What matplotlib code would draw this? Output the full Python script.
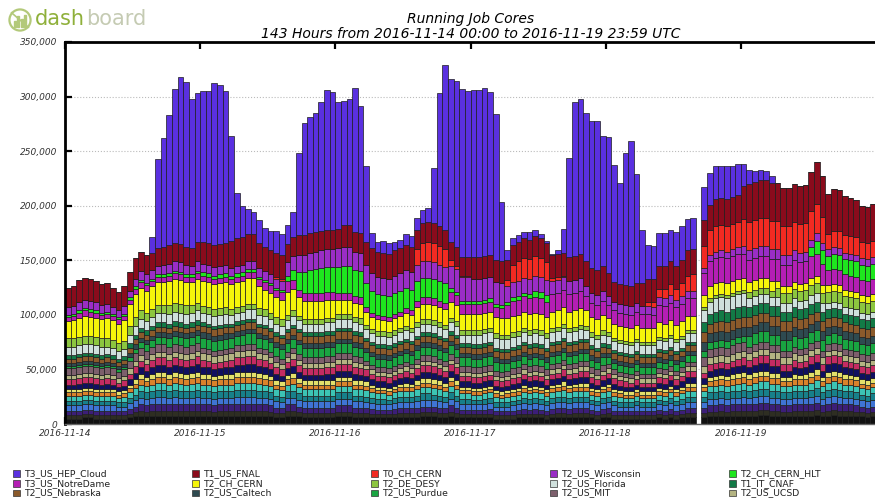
import numpy as np
import pandas as pd
import matplotlib
matplotlib.use("Agg")
import matplotlib.pyplot as plt
import matplotlib.dates as mdates
from matplotlib.patches import Rectangle, Circle


# hourly bins; no data was collected for 2016-11-18 16:00
hours = pd.date_range("2016-11-14 00:00", "2016-11-19 23:00", freq="h")
hours = hours.drop(pd.Timestamp("2016-11-18 16:00"))

# running cores per site, in thousands (one row per day)
hep_cloud = [
    0, 0, 0, 0, 0, 0, 0, 0, 0, 0, 0, 0, 0, 0, 0, 14, 82, 100, 119, 141, 153, 151, 137, 136,
    138, 139, 148, 146, 139, 96, 42, 29, 23, 20, 21, 18, 18, 20, 19, 17, 23, 75, 103, 106, 109, 118, 128, 126,
    116, 114, 116, 132, 116, 69, 14, 9, 11, 10, 8, 8, 10, 10, 11, 12, 13, 51, 122, 151, 149, 152, 154, 152,
    153, 153, 154, 149, 134, 54, 9, 6, 6, 6, 7, 6, 4, 2, 1, 3, 22, 91, 141, 142, 136, 135, 137, 119,
    125, 107, 93, 121, 133, 100, 49, 31, 30, 30, 30, 29, 31, 31, 29, 29, 30, 29, 30, 29, 30, 28, 28,
    20, 13, 10, 9, 8, 6, 0, 0, 0, 0, 0, 0, 0, 0, 0, 0, 0, 0, 0, 0, 0, 0, 0, 0,
]
fnal = [
    18, 18, 20, 20, 20, 19, 19, 19, 18, 17, 18, 17, 19, 18, 18, 16, 16, 16, 17, 17, 17, 16, 16, 18,
    20, 20, 20, 20, 20, 25, 25, 25, 25, 25, 23, 22, 22, 22, 22, 17, 17, 18, 18, 18, 18, 18, 18, 18,
    18, 20, 20, 18, 18, 21, 23, 23, 23, 23, 23, 23, 23, 23, 18, 18, 18, 18, 18, 18, 17, 17, 17, 17,
    20, 20, 20, 20, 20, 20, 18, 18, 18, 18, 18, 18, 18, 18, 21, 21, 21, 22, 22, 22, 23, 23, 23, 23,
    21, 18, 18, 18, 18, 18, 21, 21, 21, 21, 21, 21, 21, 21, 23, 23, 24, 23, 25, 25, 25, 25, 25,
    30, 35, 35, 35, 35, 35, 35, 35, 35, 35, 35, 35, 36, 38, 37, 37, 38, 37, 36, 35, 34, 33, 33, 34,
]
t0_cern = [
    0, 0, 0, 0, 0, 0, 0, 0, 0, 0, 0, 0, 0, 0, 0, 0, 0, 0, 0, 0, 0, 0, 0, 0,
    0, 0, 0, 0, 0, 0, 0, 0, 0, 0, 0, 0, 0, 2, 2, 0, 0, 0, 0, 0, 0, 0, 0, 0,
    0, 0, 0, 0, 0, 0, 0, 0, 0, 0, 0, 0, 0, 0, 14, 17, 18, 18, 17, 16, 5, 3, 1, 1,
    0, 0, 0, 0, 0, 0, 6, 16, 18, 18, 18, 18, 17, 16, 3, 3, 1, 0, 0, 0, 0, 0, 0, 0,
    0, 0, 0, 0, 0, 0, 0, 4, 5, 8, 9, 10, 10, 12, 14, 15, 20, 23, 23, 23, 23, 23, 23,
    25, 26, 26, 26, 26, 26, 26, 26, 26, 26, 26, 26, 26, 27, 24, 14, 15, 16, 16, 16, 16, 15, 15, 15,
]
wisconsin = [
    7, 7, 8, 8, 8, 8, 7, 7, 6, 6, 7, 6, 7, 8, 8, 8, 8, 9, 9, 9, 9, 9, 8, 9,
    8, 8, 8, 8, 8, 7, 7, 7, 7, 7, 8, 8, 8, 8, 8, 12, 13, 16, 16, 16, 16, 16, 16, 16,
    17, 17, 17, 17, 17, 17, 16, 16, 16, 16, 16, 16, 16, 16, 15, 15, 15, 15, 15, 15, 20, 21, 22, 22,
    20, 20, 20, 20, 20, 20, 14, 14, 14, 14, 14, 14, 14, 14, 12, 12, 12, 12, 12, 12, 9, 9, 9, 9,
    8, 8, 8, 8, 8, 8, 7, 7, 7, 7, 7, 7, 7, 7, 7, 7, 5, 6, 6, 6, 6, 6, 6,
    7, 9, 9, 9, 9, 9, 9, 9, 9, 9, 9, 9, 7, 7, 7, 6, 6, 6, 6, 6, 6, 6, 6, 6,
]
cern_hlt = [
    2, 2, 2, 2, 2, 2, 2, 2, 2, 2, 2, 2, 2, 2, 2, 2, 2, 2, 2, 2, 2, 2, 2, 2,
    3, 3, 3, 3, 3, 3, 3, 3, 3, 3, 2, 2, 2, 2, 2, 5, 9, 16, 19, 21, 22, 23, 23, 23,
    24, 25, 25, 24, 24, 22, 20, 19, 19, 19, 19, 19, 19, 19, 18, 18, 18, 18, 18, 18, 4, 3, 3, 3,
    3, 3, 3, 3, 3, 3, 3, 3, 3, 3, 4, 6, 6, 6, 0, 0, 0, 0, 0, 0, 0, 0, 0, 0,
    0, 0, 0, 0, 0, 0, 0, 0, 0, 0, 0, 0, 0, 0, 0, 0, 0, 0, 0, 0, 0, 0, 0,
    0, 0, 0, 0, 0, 0, 0, 0, 0, 0, 0, 0, 8, 12, 12, 13, 14, 14, 14, 14, 14, 14, 14, 14,
]
notre_dame = [
    4, 4, 5, 5, 5, 5, 4, 4, 4, 4, 4, 4, 5, 5, 5, 5, 5, 5, 5, 5, 5, 5, 5, 5,
    5, 5, 5, 5, 5, 5, 5, 5, 5, 5, 7, 7, 7, 7, 7, 10, 8, 7, 7, 7, 7, 7, 7, 7,
    6, 6, 6, 6, 6, 4, 4, 4, 4, 4, 4, 4, 4, 4, 6, 6, 6, 6, 6, 6, 9, 9, 9, 9,
    9, 9, 9, 9, 9, 9, 12, 14, 14, 14, 14, 14, 14, 14, 16, 16, 16, 16, 16, 16, 13, 13, 13, 13,
    12, 12, 12, 12, 12, 12, 13, 13, 12, 16, 16, 16, 16, 16, 16, 16, 20, 23, 23, 23, 23, 23, 23,
    22, 20, 20, 20, 20, 20, 20, 20, 20, 20, 20, 20, 20, 20, 20, 14, 14, 14, 14, 14, 14, 14, 14, 14,
]
ch_cern = [
    15, 16, 17, 18, 17, 17, 17, 18, 18, 18, 19, 20, 21, 21, 20, 21, 21, 21, 22, 22, 22, 21, 21, 22,
    23, 23, 23, 23, 23, 23, 23, 23, 24, 24, 20, 18, 18, 18, 18, 21, 20, 17, 17, 17, 17, 17, 17, 17,
    13, 13, 13, 13, 13, 12, 11, 11, 10, 10, 11, 11, 12, 12, 14, 14, 14, 14, 14, 14, 15, 15, 15, 15,
    15, 15, 15, 15, 15, 15, 15, 15, 15, 15, 15, 15, 15, 15, 15, 15, 15, 15, 15, 15, 14, 14, 14, 14,
    13, 13, 13, 13, 13, 13, 13, 13, 13, 13, 13, 13, 13, 13, 13, 13, 11, 11, 11, 11, 11, 11, 11,
    11, 9, 9, 9, 9, 9, 6, 6, 6, 6, 6, 6, 7, 7, 7, 6, 6, 6, 6, 6, 6, 6, 6, 6,
]
desy = [
    8, 8, 8, 8, 8, 8, 8, 8, 7, 7, 7, 8, 8, 8, 8, 7, 7, 7, 8, 8, 8, 8, 7, 7,
    6, 6, 6, 6, 6, 5, 5, 5, 5, 5, 6, 6, 6, 6, 6, 5, 5, 4, 4, 4, 4, 4, 4, 4,
    5, 5, 5, 5, 5, 4, 4, 4, 4, 4, 4, 4, 4, 4, 4, 4, 4, 4, 4, 4, 4, 4, 4, 4,
    4, 4, 4, 4, 4, 4, 4, 4, 4, 4, 4, 4, 4, 4, 4, 4, 4, 4, 4, 4, 4, 4, 4, 4,
    3, 3, 3, 3, 3, 3, 3, 3, 3, 3, 3, 3, 3, 3, 3, 3, 3, 3, 3, 3, 3, 3, 3,
    3, 6, 6, 6, 6, 6, 9, 9, 9, 9, 9, 9, 9, 9, 9, 10, 10, 10, 10, 10, 10, 10, 10, 10,
]
florida = [
    8, 8, 8, 8, 8, 8, 8, 7, 7, 7, 7, 8, 8, 8, 8, 8, 9, 9, 9, 9, 9, 9, 9, 9,
    9, 9, 9, 9, 9, 8, 8, 8, 9, 9, 8, 8, 8, 8, 8, 8, 8, 8, 8, 8, 8, 8, 8, 8,
    8, 8, 8, 8, 8, 8, 8, 8, 8, 8, 8, 8, 8, 8, 8, 8, 8, 8, 8, 8, 8, 8, 8, 8,
    9, 9, 9, 9, 9, 9, 9, 9, 9, 9, 9, 9, 9, 9, 9, 9, 9, 9, 9, 9, 8, 8, 8, 8,
    8, 8, 8, 8, 8, 8, 8, 8, 8, 8, 8, 8, 8, 8, 8, 8, 11, 11, 12, 12, 12, 12, 12,
    12, 8, 8, 8, 8, 8, 8, 8, 8, 8, 8, 8, 8, 8, 8, 6, 6, 6, 6, 6, 6, 6, 6, 6,
]
cnaf = [
    3, 3, 3, 3, 3, 3, 3, 3, 3, 3, 3, 4, 4, 4, 4, 4, 4, 4, 4, 4, 4, 4, 4, 4,
    3, 3, 3, 3, 3, 3, 3, 3, 3, 3, 3, 3, 3, 3, 3, 3, 3, 3, 3, 3, 3, 3, 3, 3,
    3, 3, 3, 3, 3, 3, 3, 3, 3, 3, 3, 3, 3, 3, 3, 3, 3, 3, 3, 3, 3, 3, 3, 3,
    3, 3, 3, 3, 3, 3, 3, 3, 3, 3, 3, 3, 3, 3, 3, 3, 3, 3, 3, 3, 3, 3, 3, 3,
    3, 3, 3, 3, 3, 3, 3, 3, 3, 3, 3, 3, 3, 3, 3, 3, 9, 9, 10, 10, 10, 10, 10,
    10, 9, 9, 9, 9, 9, 9, 9, 9, 9, 9, 9, 9, 9, 9, 8, 8, 8, 8, 8, 8, 8, 8, 8,
]
nebraska = [
    4, 4, 4, 4, 4, 4, 4, 4, 4, 4, 4, 5, 5, 5, 5, 5, 5, 5, 5, 5, 5, 5, 5, 5,
    6, 6, 6, 6, 6, 6, 6, 6, 6, 6, 6, 6, 6, 6, 6, 6, 6, 7, 7, 7, 7, 7, 7, 7,
    7, 7, 7, 7, 7, 6, 6, 6, 6, 6, 6, 6, 6, 6, 6, 6, 6, 6, 6, 6, 6, 6, 6, 6,
    6, 6, 6, 6, 6, 6, 6, 6, 6, 6, 6, 6, 6, 6, 6, 6, 6, 6, 6, 6, 6, 6, 6, 6,
    5, 5, 5, 5, 5, 5, 5, 5, 5, 5, 5, 5, 5, 5, 5, 5, 9, 9, 9, 9, 9, 9, 9,
    9, 9, 9, 9, 9, 9, 9, 9, 9, 9, 9, 9, 9, 9, 9, 8, 8, 8, 8, 8, 8, 8, 8, 8,
]
caltech = [
    3, 3, 3, 3, 3, 3, 3, 3, 3, 3, 3, 4, 4, 4, 4, 4, 4, 4, 4, 4, 4, 4, 4, 4,
    5, 5, 5, 5, 5, 4, 4, 4, 4, 4, 4, 4, 4, 4, 4, 4, 4, 4, 4, 4, 4, 4, 4, 4,
    4, 4, 4, 4, 4, 4, 4, 4, 4, 4, 4, 4, 4, 4, 4, 4, 4, 4, 4, 4, 4, 4, 4, 4,
    4, 4, 4, 4, 4, 4, 4, 4, 4, 4, 4, 4, 4, 4, 4, 4, 4, 4, 4, 4, 4, 4, 4, 4,
    4, 4, 4, 4, 4, 4, 4, 4, 4, 4, 4, 4, 4, 4, 4, 4, 8, 8, 8, 8, 8, 8, 8,
    8, 8, 8, 8, 8, 8, 8, 8, 8, 8, 8, 8, 8, 8, 8, 7, 7, 7, 7, 7, 7, 7, 7, 7,
]
purdue = [
    2, 2, 2, 2, 2, 2, 2, 2, 2, 2, 2, 3, 4, 5, 6, 6, 7, 7, 8, 8, 8, 8, 8, 8,
    9, 9, 9, 9, 9, 9, 9, 10, 10, 10, 9, 9, 9, 9, 9, 8, 8, 9, 9, 9, 9, 9, 9, 9,
    9, 9, 9, 9, 9, 8, 8, 8, 8, 8, 8, 8, 8, 8, 8, 8, 8, 8, 8, 8, 8, 8, 8, 8,
    8, 8, 8, 8, 8, 8, 7, 7, 7, 7, 7, 7, 7, 7, 7, 7, 7, 7, 7, 7, 7, 7, 7, 7,
    6, 6, 6, 6, 6, 6, 6, 6, 6, 6, 6, 6, 6, 6, 6, 6, 6, 6, 6, 6, 6, 6, 6,
    6, 10, 10, 10, 10, 10, 10, 10, 10, 10, 10, 10, 10, 10, 10, 9, 9, 9, 9, 9, 9, 9, 9, 9,
]
mit = [
    6, 6, 6, 6, 6, 6, 6, 6, 6, 6, 6, 7, 7, 7, 7, 7, 7, 7, 7, 7, 7, 7, 7, 7,
    5, 5, 5, 5, 5, 5, 5, 5, 5, 5, 5, 5, 5, 5, 5, 5, 5, 5, 5, 5, 5, 5, 5, 5,
    5, 5, 5, 5, 5, 4, 4, 4, 4, 4, 4, 4, 4, 4, 5, 5, 5, 5, 5, 5, 5, 5, 5, 5,
    5, 5, 5, 5, 5, 5, 5, 5, 5, 5, 5, 5, 5, 5, 5, 5, 5, 5, 5, 5, 5, 5, 5, 5,
    4, 4, 4, 4, 4, 4, 4, 4, 4, 4, 4, 4, 4, 4, 4, 4, 8, 8, 8, 8, 8, 8, 8,
    8, 6, 6, 6, 6, 6, 6, 6, 6, 6, 6, 6, 6, 6, 6, 6, 6, 6, 6, 6, 6, 6, 6, 6,
]
ucsd = [
    4, 4, 4, 4, 4, 4, 4, 4, 4, 4, 4, 5, 5, 5, 5, 5, 5, 5, 5, 5, 5, 5, 5, 5,
    6, 6, 6, 6, 6, 6, 6, 6, 6, 6, 5, 5, 5, 5, 5, 4, 5, 5, 5, 5, 5, 5, 5, 5,
    5, 5, 5, 5, 5, 4, 4, 4, 4, 4, 4, 4, 4, 4, 4, 4, 4, 4, 4, 4, 4, 4, 4, 4,
    4, 4, 4, 4, 4, 4, 4, 4, 4, 4, 4, 4, 4, 4, 4, 4, 4, 4, 4, 4, 4, 4, 4, 4,
    4, 4, 4, 4, 4, 4, 4, 4, 4, 4, 4, 4, 4, 4, 4, 4, 6, 6, 6, 6, 6, 6, 6,
    6, 6, 6, 6, 6, 6, 6, 6, 6, 6, 6, 6, 6, 6, 6, 5, 5, 5, 5, 5, 5, 5, 5, 5,
]

# the many small sites at the bottom of the stack
small_1 = [
    5, 5, 5, 6, 6, 5, 5, 5, 5, 5, 5, 6, 7, 7, 7, 7, 7, 7, 7, 7, 7, 7, 7, 7,
    7, 7, 7, 7, 7, 7, 7, 7, 7, 7, 7, 7, 7, 6, 6, 7, 7, 7, 6, 6, 6, 6, 6, 6,
    7, 7, 7, 6, 6, 6, 6, 6, 6, 6, 6, 6, 6, 6, 6, 7, 7, 7, 6, 6, 7, 6, 6, 6,
    6, 6, 6, 6, 5, 5, 5, 5, 6, 6, 6, 6, 6, 5, 6, 6, 6, 6, 6, 6, 6, 6, 5, 6,
    6, 5, 5, 5, 5, 5, 5, 5, 5, 6, 5, 6, 5, 6, 6, 6, 6, 7, 7, 7, 7, 7, 7,
    7, 7, 7, 8, 8, 7, 7, 7, 7, 7, 7, 7, 7, 8, 7, 7, 8, 7, 7, 7, 7, 7, 6, 7,
]
small_2 = [
    3, 3, 3, 3, 3, 3, 3, 3, 3, 3, 3, 3, 4, 5, 4, 5, 5, 5, 5, 5, 5, 5, 5, 5,
    5, 5, 4, 5, 5, 5, 5, 5, 5, 5, 5, 5, 4, 4, 4, 5, 5, 4, 4, 4, 4, 4, 4, 4,
    4, 4, 4, 4, 4, 4, 3, 3, 3, 3, 3, 4, 4, 4, 4, 4, 4, 4, 4, 4, 4, 4, 3, 3,
    3, 3, 3, 3, 3, 3, 3, 3, 3, 3, 3, 3, 3, 3, 3, 4, 4, 3, 4, 4, 4, 3, 3, 3,
    4, 3, 3, 3, 3, 3, 3, 3, 3, 3, 3, 3, 3, 3, 4, 4, 4, 4, 4, 5, 4, 5, 5,
    5, 5, 5, 5, 5, 5, 5, 4, 4, 5, 5, 5, 5, 5, 4, 5, 5, 5, 5, 5, 4, 4, 4, 4,
]
small_3 = [
    4, 4, 4, 4, 4, 4, 4, 4, 4, 4, 4, 5, 5, 6, 6, 6, 6, 6, 6, 6, 6, 6, 6, 6,
    6, 6, 6, 6, 6, 6, 6, 6, 6, 6, 6, 6, 6, 5, 5, 6, 6, 5, 5, 5, 5, 5, 5, 5,
    6, 6, 6, 5, 5, 5, 5, 4, 4, 4, 5, 5, 5, 5, 5, 5, 5, 5, 5, 5, 6, 5, 4, 4,
    4, 4, 4, 5, 4, 4, 4, 4, 4, 5, 4, 5, 4, 4, 5, 5, 5, 5, 5, 5, 5, 4, 4, 5,
    5, 4, 4, 4, 4, 4, 4, 4, 4, 4, 4, 5, 4, 4, 5, 5, 5, 6, 6, 6, 6, 6, 6,
    6, 6, 6, 6, 6, 6, 6, 6, 6, 6, 6, 6, 6, 6, 6, 6, 6, 6, 6, 6, 6, 5, 5, 5,
]
small_4 = [
    5, 5, 5, 5, 5, 5, 5, 5, 5, 4, 4, 5, 6, 6, 6, 6, 7, 7, 6, 7, 6, 6, 6, 7,
    6, 6, 6, 6, 6, 6, 7, 7, 7, 7, 6, 6, 6, 6, 5, 6, 6, 6, 6, 6, 6, 6, 6, 6,
    6, 6, 6, 6, 6, 5, 5, 5, 5, 5, 5, 5, 5, 5, 6, 6, 6, 6, 6, 5, 6, 6, 5, 5,
    5, 5, 5, 5, 4, 4, 4, 5, 5, 5, 5, 5, 5, 5, 5, 5, 5, 5, 5, 5, 5, 5, 5, 5,
    5, 5, 4, 4, 4, 5, 4, 4, 4, 5, 5, 5, 5, 5, 5, 5, 5, 6, 6, 6, 6, 6, 6,
    7, 6, 7, 7, 7, 6, 6, 6, 6, 6, 6, 6, 7, 7, 6, 7, 7, 7, 6, 6, 6, 6, 6, 6,
]
small_5 = [
    4, 4, 4, 4, 4, 4, 4, 4, 4, 4, 4, 5, 5, 6, 6, 6, 6, 6, 6, 6, 6, 6, 6, 6,
    6, 6, 6, 6, 6, 6, 6, 6, 6, 6, 6, 6, 6, 5, 5, 6, 6, 6, 5, 5, 5, 5, 5, 5,
    6, 6, 6, 5, 5, 5, 5, 5, 5, 4, 5, 5, 5, 5, 5, 6, 6, 5, 5, 5, 6, 5, 5, 5,
    4, 4, 5, 5, 4, 4, 4, 4, 4, 5, 5, 5, 5, 4, 5, 5, 5, 5, 5, 5, 5, 4, 4, 5,
    5, 4, 4, 4, 4, 4, 4, 4, 4, 4, 4, 5, 4, 5, 5, 5, 5, 6, 6, 6, 6, 6, 6,
    6, 6, 6, 6, 6, 6, 6, 6, 6, 6, 6, 6, 6, 7, 6, 6, 6, 6, 6, 6, 6, 5, 5, 6,
]
small_6 = [
    5, 5, 5, 5, 5, 5, 5, 5, 5, 4, 5, 5, 6, 6, 6, 6, 7, 7, 6, 7, 7, 6, 7, 7,
    6, 6, 6, 6, 6, 6, 7, 7, 7, 7, 7, 6, 6, 6, 6, 6, 7, 6, 6, 6, 6, 6, 6, 6,
    6, 6, 6, 6, 6, 6, 5, 5, 5, 5, 5, 5, 5, 5, 6, 6, 6, 6, 6, 5, 6, 6, 5, 5,
    5, 5, 5, 5, 5, 4, 5, 5, 5, 5, 5, 5, 5, 5, 5, 5, 6, 5, 5, 5, 5, 5, 5, 5,
    5, 5, 5, 4, 4, 5, 4, 4, 4, 5, 5, 5, 5, 5, 5, 5, 5, 6, 6, 6, 6, 6, 7,
    7, 6, 7, 7, 7, 7, 7, 6, 6, 6, 6, 6, 7, 7, 6, 7, 7, 7, 6, 6, 6, 6, 6, 6,
]
small_7 = [
    3, 3, 3, 3, 3, 3, 3, 3, 3, 3, 3, 4, 4, 5, 4, 5, 5, 5, 5, 5, 5, 5, 5, 5,
    5, 5, 5, 5, 5, 5, 5, 5, 5, 5, 5, 5, 5, 4, 4, 5, 5, 4, 4, 4, 4, 4, 4, 4,
    4, 4, 4, 4, 4, 4, 4, 3, 3, 3, 3, 4, 4, 4, 4, 4, 4, 4, 4, 4, 4, 4, 3, 3,
    3, 3, 3, 3, 3, 3, 3, 3, 3, 4, 3, 3, 3, 3, 4, 4, 4, 4, 4, 4, 4, 3, 3, 3,
    4, 3, 3, 3, 3, 3, 3, 3, 3, 3, 3, 3, 3, 3, 4, 4, 4, 4, 5, 5, 5, 5, 5,
    5, 5, 5, 5, 5, 5, 5, 4, 4, 5, 5, 5, 5, 5, 4, 5, 5, 5, 5, 5, 5, 4, 4, 4,
]
small_8 = [
    3, 3, 3, 3, 3, 3, 3, 3, 3, 3, 3, 3, 4, 5, 4, 5, 5, 5, 5, 5, 5, 5, 5, 5,
    5, 5, 4, 4, 5, 5, 5, 5, 5, 5, 5, 5, 4, 4, 4, 4, 5, 4, 4, 4, 4, 4, 4, 4,
    4, 4, 4, 4, 4, 4, 3, 3, 3, 3, 3, 3, 4, 3, 4, 4, 4, 4, 4, 4, 4, 4, 3, 3,
    3, 3, 3, 3, 3, 3, 3, 3, 3, 3, 3, 3, 3, 3, 3, 3, 4, 3, 3, 4, 4, 3, 3, 3,
    3, 3, 3, 3, 3, 3, 3, 3, 3, 3, 3, 3, 3, 3, 4, 4, 3, 4, 4, 4, 4, 5, 5,
    5, 5, 5, 5, 5, 5, 5, 4, 4, 5, 4, 5, 5, 5, 4, 5, 5, 5, 5, 4, 4, 4, 4, 4,
]
small_9 = [
    4, 4, 5, 5, 5, 5, 4, 5, 4, 4, 4, 5, 6, 6, 6, 6, 6, 6, 6, 6, 6, 6, 6, 7,
    6, 6, 6, 6, 6, 6, 6, 6, 7, 7, 6, 6, 6, 6, 5, 6, 6, 6, 5, 5, 5, 5, 6, 6,
    6, 6, 6, 6, 5, 5, 5, 5, 5, 5, 5, 5, 5, 5, 5, 6, 6, 6, 5, 5, 6, 6, 5, 5,
    5, 5, 5, 5, 4, 4, 4, 5, 5, 5, 5, 5, 5, 4, 5, 5, 5, 5, 5, 5, 5, 5, 4, 5,
    5, 5, 4, 4, 4, 4, 4, 4, 4, 5, 5, 5, 4, 5, 5, 5, 5, 6, 6, 6, 6, 6, 6,
    6, 6, 6, 7, 7, 6, 6, 6, 6, 6, 6, 6, 7, 7, 6, 7, 7, 7, 6, 6, 6, 6, 6, 6,
]
small_10 = [
    5, 5, 5, 5, 5, 5, 5, 5, 5, 4, 5, 5, 6, 6, 6, 7, 7, 7, 7, 7, 7, 7, 7, 7,
    7, 6, 6, 6, 6, 7, 7, 7, 7, 7, 7, 7, 6, 6, 6, 6, 7, 6, 6, 6, 6, 6, 6, 6,
    6, 6, 6, 6, 6, 6, 5, 5, 5, 5, 5, 5, 6, 5, 6, 6, 6, 6, 6, 6, 6, 6, 5, 5,
    5, 5, 5, 5, 5, 5, 5, 5, 5, 5, 5, 5, 5, 5, 5, 5, 6, 5, 5, 6, 6, 5, 5, 5,
    5, 5, 5, 5, 4, 5, 4, 4, 4, 5, 5, 5, 5, 5, 6, 6, 5, 6, 6, 6, 6, 6, 7,
    7, 7, 7, 7, 7, 7, 7, 6, 6, 7, 6, 6, 7, 7, 6, 7, 7, 7, 6, 6, 6, 6, 6, 6,
]

# stack order, bottom first: (legend name or None, colour, values)
stack = [
    (None, "#111111", small_1),
    (None, "#2e2e22", small_2),
    (None, "#3c1e78", small_3),
    (None, "#3f74d4", small_4),
    (None, "#17808a", small_5),
    (None, "#3cc4b4", small_6),
    (None, "#d9822b", small_7),
    (None, "#e3e06a", small_8),
    (None, "#101060", small_9),
    (None, "#c42b62", small_10),
    ("T2_US_UCSD", "#b4b482", ucsd),
    ("T2_US_MIT", "#7d5f6c", mit),
    ("T2_US_Purdue", "#19a541", purdue),
    ("T2_US_Caltech", "#2e4a50", caltech),
    ("T2_US_Nebraska", "#8b5a2b", nebraska),
    ("T1_IT_CNAF", "#127a46", cnaf),
    ("T2_US_Florida", "#cfe0dc", florida),
    ("T2_DE_DESY", "#8cc63f", desy),
    ("T2_CH_CERN", "#f6f60a", ch_cern),
    ("T3_US_NotreDame", "#b41eb4", notre_dame),
    ("T2_CH_CERN_HLT", "#1ee61e", cern_hlt),
    ("T2_US_Wisconsin", "#9a2dc6", wisconsin),
    ("T0_CH_CERN", "#f22a22", t0_cern),
    ("T1_US_FNAL", "#8a0b1c", fnal),
    ("T3_US_HEP_Cloud", "#5a30e0", hep_cloud),
]
for name, color, vals in stack:
    assert len(vals) == len(hours), (name, len(vals))

fig = plt.figure(figsize=(8.75, 4.98), dpi=100)
ax = fig.add_axes([65 / 875, 74 / 498, 811 / 875, 382 / 498])

x = mdates.date2num(hours)
bottom = np.zeros(len(x))
for name, color, vals in stack:
    cores = np.array(vals, dtype=float) * 1000
    ax.bar(x, cores, width=1 / 24, bottom=bottom, align="edge", color=color,
           edgecolor="#1c1c1c", linewidth=0.5, zorder=2)
    bottom += cores

days = pd.date_range("2016-11-14", "2016-11-19", freq="D")
ax.set_xlim(mdates.date2num(pd.Timestamp("2016-11-14")), mdates.date2num(pd.Timestamp("2016-11-20")))
ax.set_xticks(mdates.date2num(days))
ax.set_xticklabels([d.strftime("%Y-%m-%d") for d in days], fontstyle="italic")

yticks = np.arange(0, 350001, 50000)
ax.set_ylim(0, 350000)
ax.set_yticks(yticks)
ax.set_yticklabels([f"{v:,}" for v in yticks], fontstyle="italic")

ax.tick_params(axis="both", direction="in", length=5, width=1.6, labelsize=6.5,
               labelcolor="#333333", top=True, right=False)
ax.tick_params(axis="y", pad=5.5)
ax.tick_params(axis="x", pad=3.5)
ax.yaxis.grid(True, linestyle=":", color="#bbbbbb", linewidth=0.8, zorder=0)
ax.set_axisbelow(True)
ax.spines["left"].set_linewidth(2)
ax.spines["top"].set_linewidth(2)
ax.spines["bottom"].set_linewidth(1)
ax.spines["bottom"].set_color("#666666")
ax.spines["right"].set_visible(False)

ax.set_title("Running Job Cores\n143 Hours from 2016-11-14 00:00 to 2016-11-19 23:59 UTC",
             fontsize=10, fontstyle="italic", linespacing=1.1, pad=3)

# legend: five columns, filled row by row, largest sites first
legend_sites = [s for s in stack if s[0] is not None][::-1]
for i, (name, color, vals) in enumerate(legend_sites):
    row, col = divmod(i, 5)
    x0 = 13 + col * 179
    yc = 473.5 + row * 9.7
    fig.add_artist(Rectangle((x0 / 875, 1 - (yc + 3.3) / 498), 6.5 / 875, 6.5 / 498,
                             transform=fig.transFigure, facecolor=color,
                             edgecolor="#333333", linewidth=0.5))
    fig.text((x0 + 11) / 875, 1 - yc / 498, name, fontsize=6.7, color="#222222",
             ha="left", va="center")

# dashboard logo
logo = fig.add_axes([8 / 875, 1 - 32 / 498, 24 / 875, 24 / 498])
logo.set_xlim(-1, 1)
logo.set_ylim(-1, 1)
logo.set_aspect("equal")
logo.axis("off")
logo.add_patch(Circle((0, 0), 0.88, fill=False, edgecolor="#b3c97a", linewidth=1.6))
for bx, bh in [(-0.45, 0.5), (-0.15, 0.9), (0.15, 0.65), (0.45, 1.0)]:
    logo.add_patch(Rectangle((bx - 0.09, -0.55), 0.18, bh, color="#b3c97a"))
logo.plot([-0.7, 0.7], [0.6, -0.6], color="#b3c97a", linewidth=1.2)
fig.text(35 / 875, 1 - 19 / 498, "dash", fontsize=15, color="#8fb03a", ha="left", va="center")
fig.text(86 / 875, 1 - 19 / 498, "board", fontsize=15, color="#c5cbb3", ha="left", va="center")

fig.savefig("out.png", dpi=100)
